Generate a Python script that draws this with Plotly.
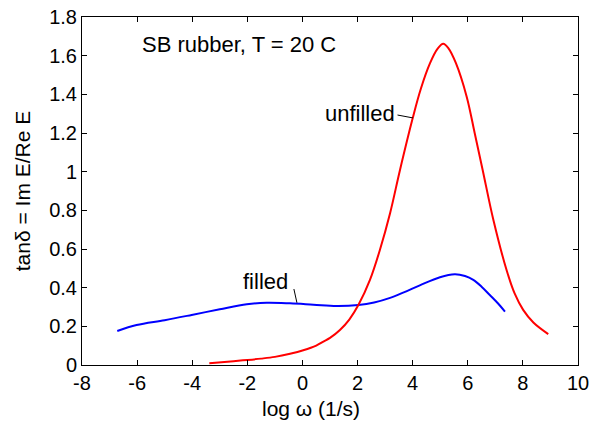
import plotly.graph_objects as go

# Loss tangent of SB rubber at 20 C versus log frequency
log_w_unfilled = [-3.38, -2.5, -2.0, -1.5, -1.0, -0.45, 0.03, 0.5, 0.76, 1.0, 1.36, 1.7,
                  2.03, 2.45, 2.81, 3.18, 3.54, 4.0, 4.3, 4.63, 4.9, 5.11, 5.3, 5.57,
                  5.96, 6.25, 6.54, 6.93, 7.41, 7.7, 8.01, 8.38, 8.92]
tan_d_unfilled = [0.009, 0.02, 0.026, 0.033, 0.042, 0.058, 0.076, 0.10, 0.121, 0.14, 0.181, 0.235,
                  0.31, 0.44, 0.595, 0.785, 1.009, 1.276, 1.43, 1.561, 1.635, 1.661, 1.638, 1.561,
                  1.388, 1.20, 1.009, 0.75, 0.49, 0.37, 0.285, 0.22, 0.16]

log_w_filled = [-6.72, -6.02, -5.0, -4.02, -3.0, -2.02, -1.3, -0.45, 0.4, 1.24, 2.03, 2.6,
                3.18, 3.7, 4.26, 4.99, 5.53, 5.9, 6.2, 6.5, 6.8, 7.1, 7.35]
tan_d_filled = [0.176, 0.207, 0.232, 0.259, 0.288, 0.314, 0.322, 0.319, 0.312, 0.305, 0.31, 0.323,
                0.347, 0.377, 0.412, 0.454, 0.469, 0.46, 0.44, 0.405, 0.362, 0.318, 0.276]

x_ticks = list(range(-8, 11, 2))
y_ticks = [0, 0.2, 0.4, 0.6, 0.8, 1.0, 1.2, 1.4, 1.6, 1.8]
y_tick_text = ["0", "0.2", "0.4", "0.6", "0.8", "1", "1.2", "1.4", "1.6", "1.8"]

FONT = "Liberation Sans, Arial, sans-serif"

fig = go.Figure()
fig.add_trace(go.Scatter(x=log_w_filled, y=tan_d_filled, mode="lines",
                         line=dict(color="#0000ff", width=2, shape="spline", smoothing=1.0)))
fig.add_trace(go.Scatter(x=log_w_unfilled, y=tan_d_unfilled, mode="lines",
                         line=dict(color="#ff0000", width=2, shape="spline", smoothing=1.0)))

axis_common = dict(showline=True, linecolor="black", linewidth=1, mirror="ticks",
                   ticks="inside", ticklen=5, tickcolor="black", tickwidth=1,
                   showgrid=False, zeroline=False, automargin=False,
                   ticklabeloverflow="allow",
                   tickfont=dict(family=FONT, size=20, color="black"))

fig.update_xaxes(range=[-8, 10], tickvals=x_ticks, ticktext=[str(v) for v in x_ticks],
                 **axis_common)
fig.update_yaxes(range=[0, 1.8], tickvals=y_ticks, ticktext=y_tick_text,
                 title=dict(text="tanδ = Im E/Re E", font=dict(family=FONT, size=21, color="black"),
                            standoff=12),
                 **axis_common)

# x-axis label, placed slightly left of the axis centre
fig.add_annotation(xref="paper", yref="paper", x=0.4617, y=-0.1236,
                   text="log ω (1/s)", showarrow=False,
                   xanchor="center", yanchor="middle",
                   font=dict(family=FONT, size=21, color="black"))

fig.add_annotation(x=-5.9, y=1.66, text="SB rubber, T = 20 C", showarrow=False,
                   xanchor="left", yanchor="middle",
                   font=dict(family=FONT, size=22, color="black"))
fig.add_annotation(x=3.42, y=1.30, text="unfilled", showarrow=False,
                   xanchor="right", yanchor="middle",
                   font=dict(family=FONT, size=22, color="black"))
fig.add_annotation(x=-0.45, y=0.43, text="filled", showarrow=False,
                   xanchor="right", yanchor="middle",
                   font=dict(family=FONT, size=22, color="black"))

# leader lines from labels to curves
fig.add_shape(type="line", x0=3.45, y0=1.293, x1=4.01, y1=1.278,
              line=dict(color="black", width=1))
fig.add_shape(type="line", x0=-0.31, y0=0.393, x1=-0.2, y1=0.322,
              line=dict(color="black", width=1))

fig.update_layout(width=589, height=424, showlegend=False,
                  paper_bgcolor="white", plot_bgcolor="white",
                  margin=dict(l=82, r=11, t=17, b=59))

fig.write_html("out.html")
